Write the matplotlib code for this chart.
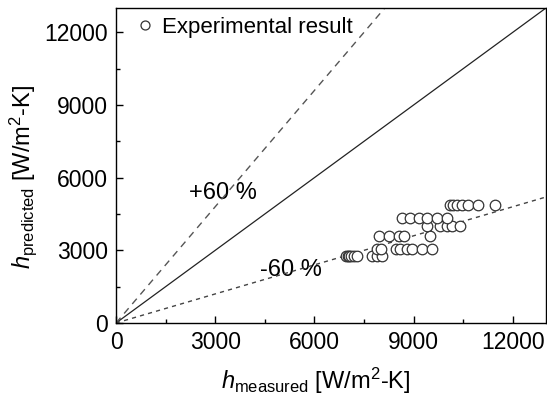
import numpy as np
import matplotlib
matplotlib.use('Agg')
import matplotlib.pyplot as plt

plt.rcParams.update({
    'font.family': ['Liberation Sans', 'DejaVu Sans'],
    'font.size': 16.5,
    'mathtext.fontset': 'custom',
    'mathtext.rm': 'Liberation Sans',
    'mathtext.it': 'Liberation Sans:italic',
    'axes.linewidth': 1.0,
})

# experimental points, grouped by predicted value rows
row_y = [2750, 3050, 3600, 4000, 4350, 4850]
row_x = [
    [6950, 7000, 7050, 7100, 7200, 7300, 7750, 7900, 8050],
    [7900, 8000, 8450, 8600, 8800, 8950, 9250, 9550],
    [7950, 8250, 8550, 8700, 9500],
    [9400, 9800, 10000, 10150, 10400],
    [8650, 8900, 9150, 9400, 9700, 10000],
    [10100, 10200, 10300, 10450, 10650, 10950, 11450],
]
h_meas = np.concatenate([np.array(xs, float) for xs in row_x])
h_pred = np.concatenate([np.full(len(xs), y, float) for xs, y in zip(row_x, row_y)])

line_x = [0, 13000]
factor_hi = 1.6   # +60 %
factor_lo = 0.4   # -60 %

fig = plt.figure(figsize=(5.47, 3.97), dpi=100)
ax = fig.add_axes([0.2121, 0.1864, 0.7861, 0.7935])

ax.plot(line_x, line_x, '-', color='#222222', lw=0.9, zorder=2)
ax.plot(line_x, [v * factor_hi for v in line_x], color='#555555', lw=1.0,
        dashes=(5, 4), zorder=2)
ax.plot(line_x, [v * factor_lo for v in line_x], color='#444444', lw=1.0,
        dashes=(3, 3), zorder=2)

ax.plot(h_meas, h_pred, 'o', ms=7.6, mfc='white', mec='#333333', mew=0.9,
        ls='none', zorder=3, label='Experimental result')

ax.text(2200, 5350, '+60 %', fontsize=17, va='center', ha='left', zorder=1)
ax.text(4350, 2190, '-60 %', fontsize=17, va='center', ha='left', zorder=1)

ax.set_xlim(0, 13000)
ax.set_ylim(0, 13000)
ax.set_xticks([0, 3000, 6000, 9000, 12000])
ax.set_yticks([0, 3000, 6000, 9000, 12000])
ax.set_xticks(np.arange(1500, 13000, 3000), minor=True)
ax.set_yticks(np.arange(1500, 13000, 3000), minor=True)
ax.tick_params(which='major', direction='in', length=5, width=1, pad=6)
ax.tick_params(which='minor', direction='in', length=3, width=1)

ax.set_xlabel(r'$h_{\mathrm{measured}}$ [W/m$^2$-K]', fontsize=17, labelpad=6)
ax.set_ylabel(r'$h_{\mathrm{predicted}}$ [W/m$^2$-K]', fontsize=17, labelpad=4)
ax.xaxis.set_label_coords(0.465, -0.135)
ax.yaxis.set_label_coords(-0.178, 0.463)

leg = ax.legend(loc='upper left', bbox_to_anchor=(0.014, 1.0), frameon=False,
                fontsize=16, handletextpad=0.1, borderaxespad=0.0,
                handlelength=1.3, markerscale=0.85)

fig.savefig('out.png', dpi=100)
